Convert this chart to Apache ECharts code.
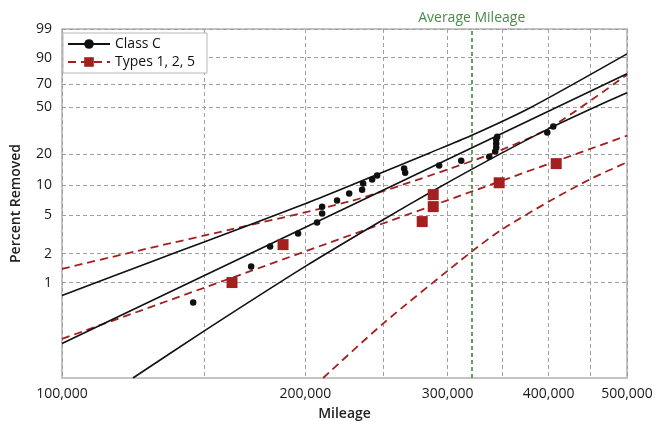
<!DOCTYPE html>
<html>
<head>
<meta charset="utf-8">
<script src="https://cdn.jsdelivr.net/npm/echarts@6/dist/echarts.min.js"></script>
<style>html,body{margin:0;padding:0;background:#fff}</style>
</head>
<body>
<div id="main" style="width:667px;height:421px"></div>
<script type="text/javascript">
// axis ticks (mileage on log scale, percent on weibull scale)
var xTicks = [100000, 150000, 200000, 250000, 300000, 350000, 400000, 450000, 500000];
var xLabels = [100000, 200000, 300000, 400000, 500000];
var yTicks = [1, 2, 5, 10, 20, 50, 70, 90, 99];
var avgMileage = 320000;

// Class C removals
var classCMiles = [145300, 171400, 180900, 195900, 206800, 209800, 209800, 218900, 226600, 235100, 235800, 241900, 245400,
    265000, 265800, 292800, 311800, 337700, 343500, 344500, 344500, 344500, 345500, 398400, 405300];
var classCPct = [0.62, 1.47, 2.37, 3.23, 4.19, 5.18, 6.10, 7.02, 8.26, 9.05, 10.4, 11.4, 12.5,
    14.6, 13.3, 15.6, 17.4, 19.0, 21.2, 23.0, 25.0, 27.2, 28.9, 31.4, 35.3];
var classCFitMiles = [100000, 500000];
var classCFitPct = [0.23, 79];
var classCUpMiles = [100000, 128500, 149900, 199900, 220800, 285400, 319900, 379500, 500000];
var classCUpPct = [0.73, 1.63, 2.64, 6.54, 9.05, 20.7, 29.3, 49.7, 92.0];
var classCLoMiles = [122400, 148200, 200400, 249600, 287900, 319900, 349400, 400700, 451600, 500000];
var classCLoPct = [0.1, 0.292, 1.49, 4.48, 8.83, 14.1, 20.4, 34.1, 48.9, 62.8];

// Types 1, 2, 5 removals
var typesMiles = [162300, 187700, 279000, 287900, 287900, 347400, 408700];
var typesPct = [1.0, 2.48, 4.29, 6.10, 8.07, 10.6, 16.3];
var typesFitMiles = [100000, 500000];
var typesFitPct = [0.257, 29.5];
var typesUpMiles = [100000, 128500, 161400, 227200, 285400, 345500, 401800, 500000];
var typesUpPct = [1.39, 2.29, 3.55, 6.91, 12.5, 21.2, 34.6, 78.3];
var typesLoMiles = [210400, 249600, 320500, 350100, 400700, 451200, 500000];
var typesLoPct = [0.1, 0.372, 2.07, 3.55, 6.91, 11.6, 16.8];

function wb(p) { return Math.log(-Math.log(1 - p / 100)); }
function pts(miles, pct) {
    return miles.map(function (m, i) { return [Math.log(m), wb(pct[i])]; });
}
function commas(n) { return String(n).replace(/\B(?=(\d{3})+(?!\d))/g, ','); }

var BLACK = '#111111';
var RED = '#a3201f';
var FONT = 'Open Sans';

var myChart = echarts.init(document.getElementById('main'));

var blackLine = { color: BLACK, width: 1.6 };
var redLine = { color: RED, width: 1.8, type: [8, 5] };

option = {
    animation: false,
    textStyle: { fontFamily: FONT },
    grid: {
        left: 62, right: 40, top: 29, bottom: 43,
        show: true, borderColor: '#c4c4c4', borderWidth: 2,
        outerBoundsMode: 'none'
    },
    legend: {
        left: 63, top: 33, orient: 'vertical',
        data: ['Class C', 'Types 1, 2, 5'],
        backgroundColor: '#fff', borderColor: '#b8b8b8', borderWidth: 1,
        padding: [4, 12, 4, 4], itemWidth: 42, itemHeight: 12, itemGap: 4,
        textStyle: { fontSize: 14, color: '#111', fontFamily: FONT, fontWeight: 500 }
    },
    xAxis: {
        type: 'value',
        min: Math.log(100000), max: Math.log(500000),
        name: 'Mileage', nameLocation: 'middle', nameGap: 29,
        nameTextStyle: { fontSize: 14, fontWeight: 600, color: '#222' },
        axisLine: { show: false },
        axisTick: { show: false, customValues: xTicks.map(Math.log) },
        axisLabel: {
            customValues: xLabels.map(Math.log), fontSize: 14, color: '#1a1a1a', margin: 9, fontWeight: 500,
            formatter: function (v) { return commas(Math.round(Math.exp(v) / 1000) * 1000); }
        },
        splitLine: { show: true, lineStyle: { color: '#a0a0a0', type: [4, 3], width: 1 } }
    },
    yAxis: {
        type: 'value',
        min: wb(0.1), max: wb(99),
        name: 'Percent Removed', nameLocation: 'middle', nameGap: 39,
        nameTextStyle: { fontSize: 14, fontWeight: 600, color: '#222' },
        axisLine: { show: false },
        axisTick: { show: false, customValues: yTicks.map(wb) },
        axisLabel: {
            customValues: yTicks.map(wb), fontSize: 14, color: '#1a1a1a', margin: 10, fontWeight: 500,
            formatter: function (v) { return Math.round(100 * (1 - Math.exp(-Math.exp(v)))); }
        },
        splitLine: { show: true, lineStyle: { color: '#a0a0a0', type: [4, 3], width: 1 } }
    },
    series: [
        {
            name: 'Class C', type: 'line', data: pts(classCFitMiles, classCFitPct),
            symbol: 'circle', symbolSize: 6, showSymbol: false, lineStyle: blackLine,
            itemStyle: { color: BLACK }, z: 3,
            markLine: {
                silent: true, symbol: 'none',
                lineStyle: { color: '#2f7d32', type: [4, 3], width: 1.5 },
                label: { position: 'end', formatter: 'Average Mileage', color: '#4a8b4a', fontSize: 14, fontFamily: FONT, fontWeight: 500, distance: 4 },
                data: [{ xAxis: Math.log(avgMileage) }]
            }
        },
        {
            name: 'Class C', type: 'line', data: pts(classCUpMiles, classCUpPct), smooth: 0.25,
            showSymbol: false, symbol: 'none', lineStyle: blackLine, itemStyle: { color: BLACK }, z: 3
        },
        {
            name: 'Class C', type: 'line', data: pts(classCLoMiles, classCLoPct), smooth: 0.25,
            showSymbol: false, symbol: 'none', lineStyle: blackLine, itemStyle: { color: BLACK }, z: 3
        },
        {
            name: 'Types 1, 2, 5', type: 'line', data: pts(typesFitMiles, typesFitPct),
            symbol: 'rect', symbolSize: 10, showSymbol: false, lineStyle: redLine,
            itemStyle: { color: RED }, z: 2
        },
        {
            name: 'Types 1, 2, 5', type: 'line', data: pts(typesUpMiles, typesUpPct), smooth: 0.25,
            showSymbol: false, symbol: 'none', lineStyle: redLine, itemStyle: { color: RED }, z: 2
        },
        {
            name: 'Types 1, 2, 5', type: 'line', data: pts(typesLoMiles, typesLoPct), smooth: 0.25,
            showSymbol: false, symbol: 'none', lineStyle: redLine, itemStyle: { color: RED }, z: 2
        },
        {
            name: 'Types 1, 2, 5', type: 'scatter', data: pts(typesMiles, typesPct),
            symbol: 'rect', symbolSize: 11, itemStyle: { color: RED, opacity: 1 }, z: 4
        },
        {
            name: 'Class C', type: 'scatter', data: pts(classCMiles, classCPct),
            symbol: 'circle', symbolSize: 6.5, itemStyle: { color: BLACK, opacity: 1 }, z: 5
        }
    ]
};

if (option && typeof option === "object") {
    myChart.setOption(option, true);
}
</script>
</body>
</html>
